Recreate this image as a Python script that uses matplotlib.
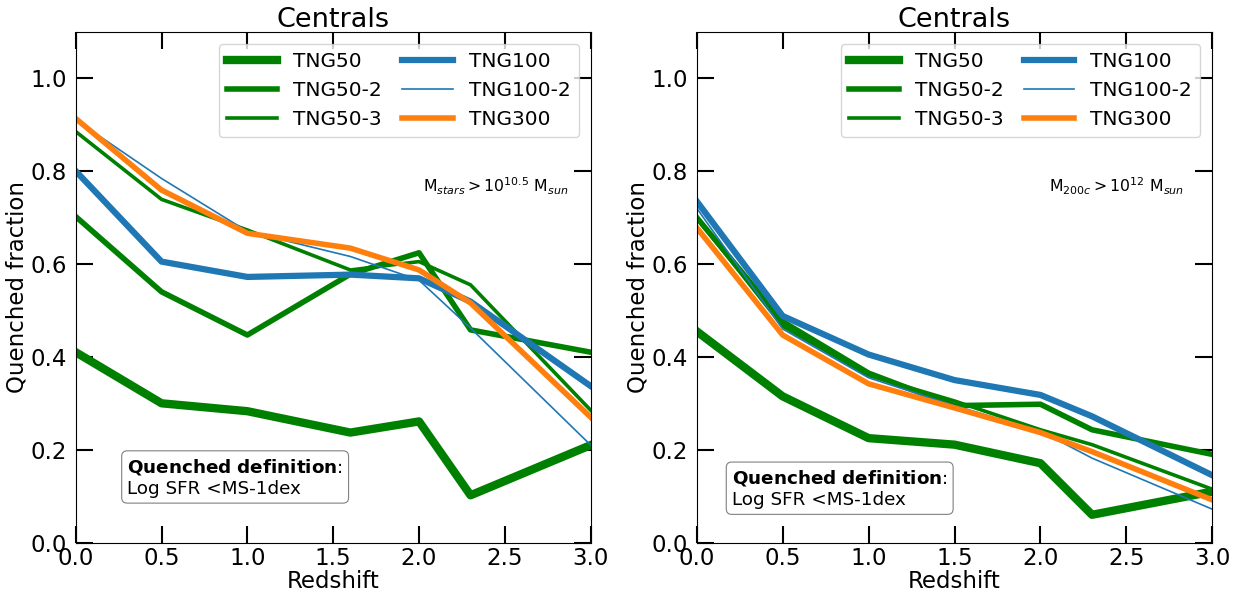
import matplotlib
matplotlib.use("Agg")
import matplotlib.pyplot as plt

# Redshift grids
z_left = [0.0, 0.5, 1.0, 1.6, 2.0, 2.3, 3.0]
z_right = [0.0, 0.5, 1.0, 1.5, 2.0, 2.3, 3.0]

# Left panel: M_stars > 10^10.5
left_tng50 = [0.41, 0.30, 0.283, 0.237, 0.261, 0.102, 0.21]
left_tng50_2 = [0.702, 0.540, 0.447, 0.578, 0.624, 0.458, 0.41]
left_tng50_3 = [0.885, 0.739, 0.673, 0.587, 0.605, 0.555, 0.285]
left_tng100 = [0.80, 0.605, 0.572, 0.577, 0.569, 0.519, 0.337]
left_tng100_2 = [0.91, 0.784, 0.670, 0.616, 0.565, 0.462, 0.21]
left_tng300 = [0.913, 0.759, 0.666, 0.634, 0.587, 0.516, 0.27]

# Right panel: M_200c > 10^12
right_tng50 = [0.455, 0.315, 0.225, 0.211, 0.171, 0.060, 0.11]
right_tng50_2 = [0.700, 0.476, 0.365, 0.295, 0.298, 0.243, 0.19]
right_tng50_3 = [0.700, 0.466, 0.360, 0.305, 0.243, 0.211, 0.115]
right_tng100 = [0.735, 0.488, 0.405, 0.350, 0.318, 0.272, 0.145]
right_tng100_2 = [0.720, 0.460, 0.355, 0.295, 0.240, 0.182, 0.072]
right_tng300 = [0.678, 0.447, 0.342, 0.290, 0.237, 0.196, 0.092]

labels = ["TNG50", "TNG50-2", "TNG50-3", "TNG100", "TNG100-2", "TNG300"]
colors = ["green", "green", "green", "#1f77b4", "#1f77b4", "#ff7f0e"]
widths = [6.0, 4.0, 2.6, 4.5, 1.2, 4.0]

xticks = [0.0, 0.5, 1.0, 1.5, 2.0, 2.5, 3.0]
yticks = [0.0, 0.2, 0.4, 0.6, 0.8, 1.0]

fig = plt.figure(figsize=(12.47, 5.97), dpi=100)
ax1 = fig.add_axes([0.0607, 0.091, 0.413, 0.856])
ax2 = fig.add_axes([0.5587, 0.091, 0.4135, 0.856])

panels = [
    (ax1, z_left, [left_tng50, left_tng50_2, left_tng50_3, left_tng100, left_tng100_2, left_tng300],
     r"M$_{stars}>10^{10.5}$ M$_{sun}$", (0.10, 0.168)),
    (ax2, z_right, [right_tng50, right_tng50_2, right_tng50_3, right_tng100, right_tng100_2, right_tng300],
     r"M$_{200c}>10^{12}$ M$_{sun}$", (0.068, 0.146)),
]

for ax, z, series, mlabel, qpos in panels:
    for vals, lab, c, lw in zip(series, labels, colors, widths):
        ax.plot(z, vals, color=c, lw=lw, label=lab)
    ax.set_xlim(0, 3.0)
    ax.set_ylim(0, 1.1)
    ax.set_xticks(xticks)
    ax.set_yticks(yticks)
    ax.tick_params(direction="in", length=12, width=1.5, top=True, right=True,
                   labelsize=16.5, pad=3)
    ax.tick_params(axis="y", pad=6)
    ax.set_xlabel("Redshift", fontsize=16.5, labelpad=0)
    ax.set_ylabel("Quenched fraction", fontsize=16.5, labelpad=2)
    ax.set_title("Centrals", fontsize=19.5, pad=3)
    ax.legend(ncol=2, loc="upper right", fontsize=14.5, handlelength=2.5,
              columnspacing=1.0, borderaxespad=0.6)
    ax.text(0.815, 0.697, mlabel, transform=ax.transAxes, fontsize=11.3,
            ha="center", va="center")
    ax.text(qpos[0], qpos[1], r"$\bf{Quenched\ definition}$:" + "\nLog SFR <MS-1dex",
            transform=ax.transAxes, fontsize=13.2, ha="left", va="top",
            bbox=dict(boxstyle="round,pad=0.3", fc="white", ec="gray", lw=0.8))

fig.savefig("out.png", dpi=100)
